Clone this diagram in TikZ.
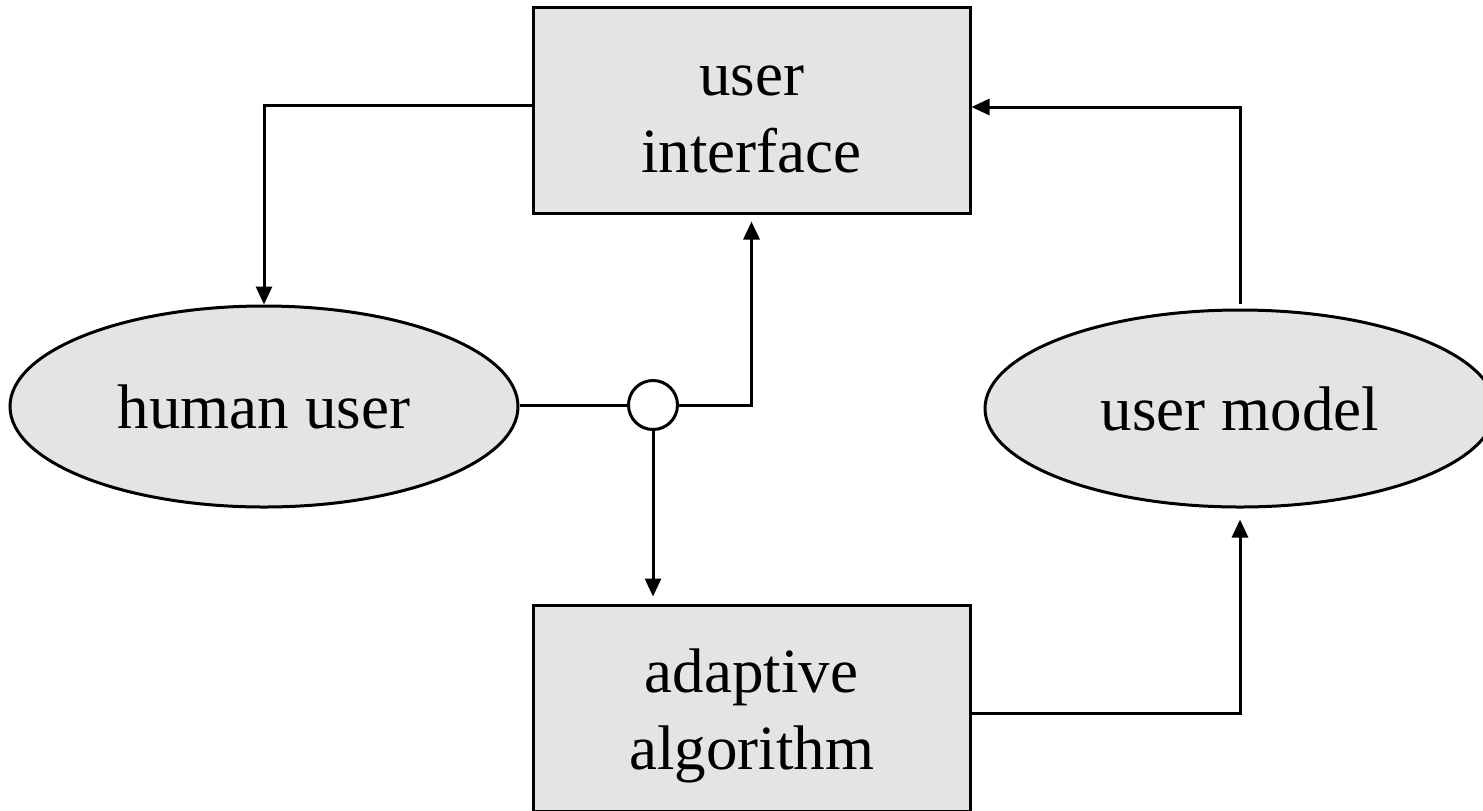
\documentclass[tikz,border=0pt]{standalone}
\usepackage{fontspec}
\setmainfont{Liberation Serif}
\usetikzlibrary{arrows.meta,shapes.geometric}
\definecolor{boxgray}{HTML}{E4E4E4}
\newcommand{\tallstrut}{\rule[-6pt]{0pt}{36pt}}
\begin{document}
\begin{tikzpicture}[x=0.5pt,y=-0.5pt,line width=1.5pt,
        box node/.style={rectangle,draw,fill=boxgray,minimum width=218.5pt,minimum height=103pt,inner sep=0pt,align=center,font=\fontsize{31.5}{38.5}\selectfont},
        blob node/.style={ellipse,draw,fill=boxgray,inner sep=0pt,font=\fontsize{31.5}{38.5}\selectfont},
        join node/.style={circle,draw,fill=white,minimum size=24.5pt,inner sep=0pt},
        link/.style={-{Triangle[length=9pt,width=8pt]}}]
        \useasboundingbox (0,0) rectangle (1483,810);

        \node[box node] at (751.5,110) (ui) {\tallstrut user\\\tallstrut interface};
        \node[box node] at (751.5,708) (algo) {\tallstrut adaptive\\\tallstrut algorithm};
        \node[blob node,minimum width=254pt,minimum height=100.5pt] at (264,406.5) (human) {human user};
        \node[blob node,minimum width=255pt,minimum height=98.5pt] at (1240,408.5) (model) {user model};
        \node[join node] at (653,405) (join) {};

        \draw[link] ([yshift=2.5pt]ui.west) -| (human.north);
        \draw (human.east |- join.west) -- (join.west);
        \draw[link,shorten >=3.5pt] (join.east) -| (ui.south);
        \draw[link,shorten >=3.5pt] (join.south) -- (join.south |- algo.north);
        \draw[link,shorten >=5.5pt] ([yshift=-2.5pt]algo.east) -| (model.south);
        \draw[link,shorten <=2.5pt] (model.north) |- ([yshift=1.5pt]ui.east);
    \end{tikzpicture}
\end{document}
